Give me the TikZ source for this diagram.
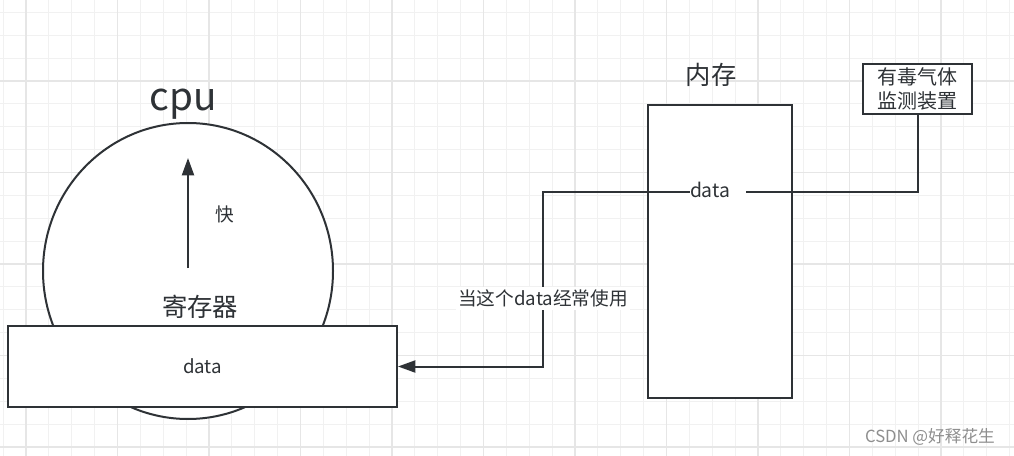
\documentclass[tikz,border=0pt]{standalone}
\usepackage{fontspec}
\setmainfont{Noto Sans CJK SC}
\usetikzlibrary{arrows.meta,shapes.geometric}
\definecolor{inkgray}{HTML}{2E3236}
\definecolor{gridminor}{HTML}{F1F1F1}
\definecolor{gridmajor}{HTML}{E6E6E6}
\definecolor{markgray}{HTML}{8E8E8E}
\tikzset{
  >={Triangle[length=13pt,width=9pt]},
  % rutnät
  gmin/.style={draw=gridminor,line width=0.8pt},
  gmaj/.style={draw=gridmajor,line width=1.4pt},
  % former
  box/.style={draw=inkgray,fill=white,line width=1.5pt,inner sep=0pt,
              text=inkgray},
  conn/.style={draw=inkgray,line width=1.5pt},
  txt/.style={text=inkgray,inner sep=1pt},
}
\begin{document}
\begin{tikzpicture}[x=0.75pt,y=-0.75pt]
  \useasboundingbox (0,0) rectangle (1014,456);
  \fill[white] (0,0) rectangle (1014,456);
  % rutnät
  \foreach \i in {0,...,44} \draw[gmin] ({3.1+22.875*\i},0) -- ++(0,456);
  \foreach \j in {0,...,19} \draw[gmin] (0,{12.4+22.875*\j}) -- ++(1014,0);
  \foreach \i in {0,...,10} \draw[gmaj] ({26+91.5*\i},0) -- ++(0,456);
  \foreach \j in {0,...,4} \draw[gmaj] (0,{81+91.5*\j}) -- ++(1014,0);
  % cpu
  \node[box,ellipse,minimum width=217.5pt,minimum height=222pt] (cpu) at (188,271) {};
  \node[txt,font=\fontsize{29}{32}\selectfont] (cpulbl) at (183,104) {cpu};
  \coordinate (fastlow) at (188,268);
  \coordinate (fasttop) at (188,158);
  \draw[conn,->] (fastlow) -- (fasttop);
  \node[txt,font=\fontsize{14}{16}\selectfont] (fast) at (225,214) {快};
  \node[txt,font=\fontsize{19}{22}\selectfont] (reglbl) at (200,307) {寄存器};
  \node[box,minimum width=291.75pt,minimum height=60.75pt,
        font=\fontsize{14}{16}\selectfont] (reg) at (202.5,366.5) {data};
  % minne
  \node[txt,font=\fontsize{19}{22}\selectfont] (memlbl) at (711,75) {内存};
  \node[box,minimum width=108pt,minimum height=219.75pt] (mem) at (720,251.5) {};
  \node[txt,inner sep=0pt,text width=42pt,align=left,
        font=\fontsize{14.5}{16}\selectfont] (memdata) at (718,190) {data};
  \node[box,minimum width=81.75pt,minimum height=37.5pt,align=center,
        font=\fontsize{15}{18.5}\selectfont] (toxic) at (917.5,89) {有毒气体\\监测装置};
  % förbindelser
  \coordinate (bend) at (543,192);
  \draw[conn,->] (memdata.west |- bend) -- (bend) |- (reg.east)
    node[pos=0.305,fill=white,txt,inner sep=2pt,
         font=\fontsize{14}{16}\selectfont] (often) {当这个data经常使用};
  \draw[conn] (memdata.east |- bend) -| (toxic.south);
  \node[text=markgray,font=\fontsize{12.5}{14}\selectfont] (mark) at (930,437) {CSDN @好释花生};
\end{tikzpicture}
\end{document}
